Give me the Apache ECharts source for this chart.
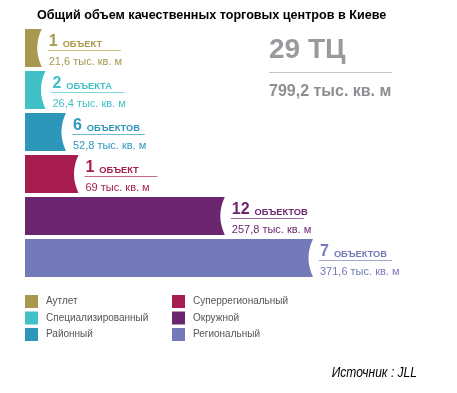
<!DOCTYPE html>
<html><head><meta charset="utf-8">
<script src="https://cdn.jsdelivr.net/npm/echarts@6/dist/echarts.min.js"></script>
<style>html,body{margin:0;padding:0;background:#fff}#c{width:457px;height:393px}</style>
</head><body><div id="c"></div>
<script>
const categories = ['Аутлет', 'Специализированный', 'Районный', 'Суперрегиональный', 'Окружной', 'Региональный'];
const areaValues = [21.6, 26.4, 52.8, 69, 257.8, 371.6];
const objectCounts = [1, 2, 6, 1, 12, 7];
const objectWords = ['ОБЪЕКТ', 'ОБЪЕКТА', 'ОБЪЕКТОВ', 'ОБЪЕКТ', 'ОБЪЕКТОВ', 'ОБЪЕКТОВ'];
const totalCount = 29;
const totalArea = 799.2;
const areaUnit = 'тыс. кв. м';
const colors = ['#A8994F', '#40C1C8', '#2D97BA', '#A71D50', '#6C2670', '#7479B9'];
const lineColors = ['#C9BD7E', '#7FD6DB', '#6FB8D2', '#C9668A', '#9A6A9D', '#A3A6D2'];

const FONT = "'Liberation Sans', Arial, sans-serif";
const fmt = v => String(v).replace('.', ',');

function renderItem(params, api) {
  const i = params.seriesIndex;
  const cat = api.value(1);
  const v = api.value(0);
  const start = api.coord([0, cat]);
  const end = api.coord([v, cat]);
  const h = api.size([0, 1])[1] * 0.9;
  const x0 = start[0], x1 = end[0], cy = end[1];
  const y0 = cy - h / 2, y1 = cy + h / 2;
  const d = 4.5;
  const path = 'M' + x0 + ' ' + y0 + 'L' + x1 + ' ' + y0 + 'Q' + (x1 - 2 * d) + ' ' + cy + ' ' + x1 + ' ' + y1 + 'L' + x0 + ' ' + y1 + 'Z';
  const ly = Math.round(y0 + 20.5) + 0.5;
  return {
    type: 'group',
    children: [
      { type: 'path', shape: { pathData: path }, style: { fill: colors[i] } },
      {
        type: 'text', x: x1 + 7, y: y0 + 20,
        style: {
          text: '{n|' + objectCounts[i] + '}{w|' + objectWords[i] + '}',
          textAlign: 'left', verticalAlign: 'bottom',
          fill: colors[i],
          rich: {
            n: { fontSize: 16, fontWeight: 'bold', fontFamily: FONT, fill: colors[i], verticalAlign: 'bottom', lineHeight: 16 },
            w: { fontSize: 9.3, fontWeight: 'bold', fontFamily: FONT, fill: colors[i], verticalAlign: 'bottom', lineHeight: 8, padding: [0, 0, 0, 5] }
          }
        }
      },
      { type: 'line', shape: { x1: x1 + 6, y1: ly, x2: x1 + 79, y2: ly }, style: { stroke: lineColors[i], lineWidth: 1 } },
      {
        type: 'text', x: x1 + 7, y: y0 + 38.3,
        style: { text: fmt(areaValues[i]) + ' ' + areaUnit, font: '11px ' + FONT, fill: colors[i], textAlign: 'left', verticalAlign: 'bottom' }
      }
    ]
  };
}

const series = categories.map((c, i) => ({
  name: c,
  type: 'custom',
  renderItem: renderItem,
  itemStyle: { color: colors[i] },
  encode: { x: 0, y: 1 },
  data: [[areaValues[i], c]],
  silent: true
}));

const legendBase = {
  orient: 'vertical', icon: 'rect', itemWidth: 13, itemHeight: 13, itemGap: 3.5, padding: 0,
  selectedMode: false,
  textStyle: { fontSize: 10, color: '#555', fontFamily: FONT, padding: [0, 0, 0, 3] }
};

const chart = echarts.init(document.getElementById('c'), null, { renderer: 'canvas' });
chart.setOption({
  animation: false,
  backgroundColor: '#fff',
  title: {
    text: 'Общий объем качественных торговых центров в Киеве',
    left: 37, top: 9, padding: 0,
    textStyle: { fontSize: 12.6, fontWeight: 'bold', color: '#000', fontFamily: FONT }
  },
  grid: { left: 25, top: 27, width: 387.5, height: 252 },
  xAxis: { type: 'value', min: 0, max: 500, show: false },
  yAxis: { type: 'category', data: categories, inverse: true, show: false },
  legend: [
    Object.assign({}, legendBase, { data: categories.slice(0, 3), left: 25, top: 295 }),
    Object.assign({}, legendBase, { data: categories.slice(3), left: 172, top: 295 })
  ],
  graphic: [
    { type: 'text', x: 269, y: 36, style: { text: totalCount + ' ТЦ', font: 'bold 28px ' + FONT, fill: '#9A9A9E', verticalAlign: 'top' } },
    { type: 'line', shape: { x1: 269, y1: 72.5, x2: 392, y2: 72.5 }, style: { stroke: '#C4C4C6', lineWidth: 1 } },
    { type: 'text', x: 269, y: 84, style: { text: fmt(totalArea) + ' ' + areaUnit, font: 'bold 16px ' + FONT, fill: '#8E8E92', verticalAlign: 'top' } },
    { type: 'text', x: 417, y: 366, scaleX: 0.86, style: { text: 'Источник : JLL', font: 'italic 14px ' + FONT, fill: '#000', textAlign: 'right', verticalAlign: 'top' } }
  ],
  series: series
});
</script></body></html>
